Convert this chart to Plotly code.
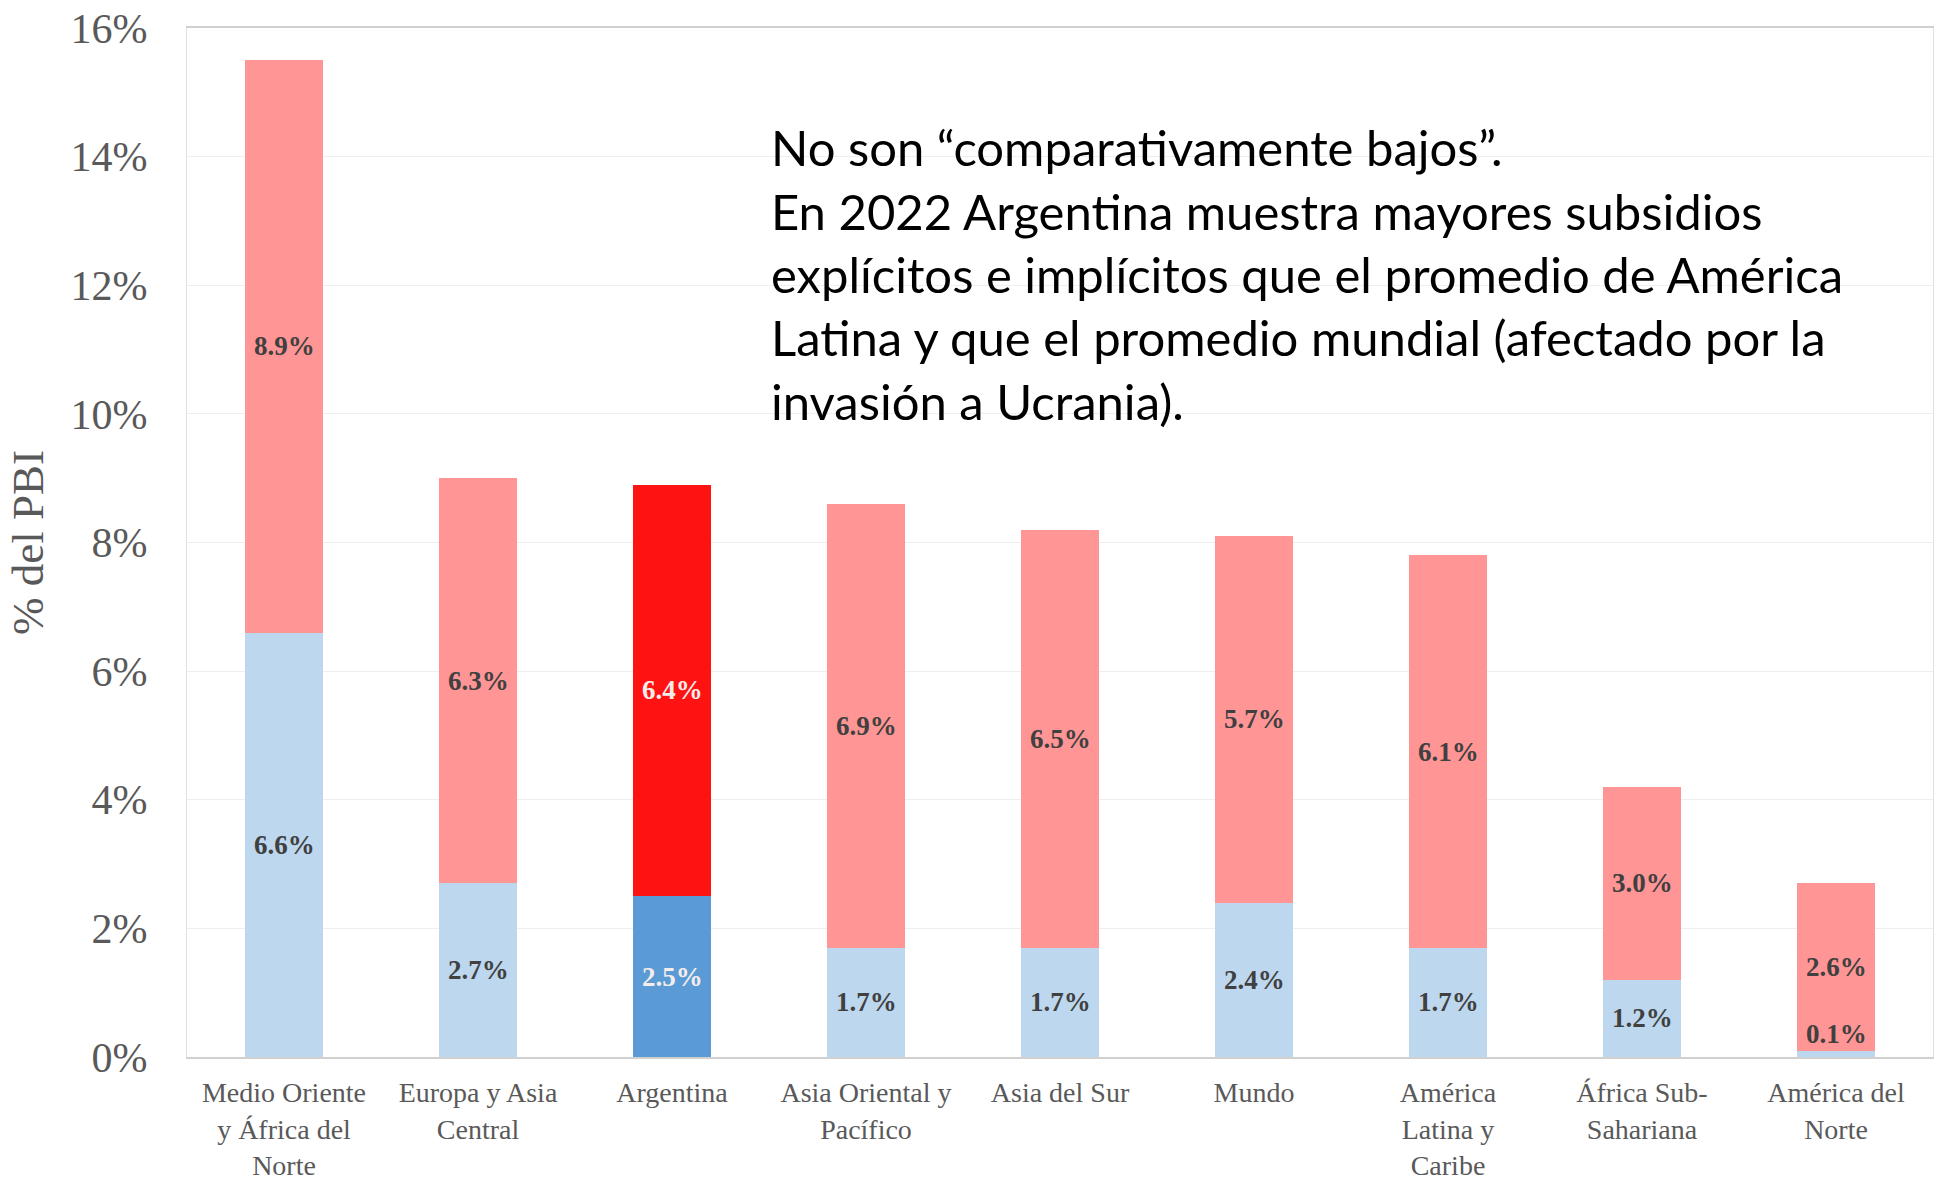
import plotly.graph_objects as go

# Regions and subsidy components (% of GDP, 2022)
regiones = [
    "Medio Oriente<br>y África del<br>Norte",
    "Europa y Asia<br>Central",
    "Argentina",
    "Asia Oriental y<br>Pacífico",
    "Asia del Sur",
    "Mundo",
    "América<br>Latina y<br>Caribe",
    "África Sub-<br>Sahariana",
    "América del<br>Norte",
]
explicitos = [6.6, 2.7, 2.5, 1.7, 1.7, 2.4, 1.7, 1.2, 0.1]
implicitos = [8.9, 6.3, 6.4, 6.9, 6.5, 5.7, 6.1, 3.0, 2.6]
destacado = "Argentina"

y_ticks = [0, 2, 4, 6, 8, 10, 12, 14, 16]
y_ticktext = [f"{t}%" for t in y_ticks]

nota = [
    "No son “comparativamente bajos”.",
    "En 2022 Argentina muestra mayores subsidios",
    "explícitos e implícitos que el promedio de América",
    "Latina y que el promedio mundial (afectado por la",
    "invasión a Ucrania).",
]

# Colours
AZUL_CLARO = "#BDD7EE"
AZUL_FUERTE = "#5B9BD5"
ROJO_CLARO = "#FF9595"
ROJO_FUERTE = "#FF1212"
GRIS_TEXTO = "#595959"
SERIF = "Liberation Serif, DejaVu Serif, serif"

W, H = 1937, 1181
L, R, T, B = 187, 4, 28, 124

es_dest = [r == destacado for r in regiones]
col_exp = [AZUL_FUERTE if d else AZUL_CLARO for d in es_dest]
col_imp = [ROJO_FUERTE if d else ROJO_CLARO for d in es_dest]

fig = go.Figure()
fig.add_trace(go.Bar(x=regiones, y=explicitos, name="Explícitos",
                     marker=dict(color=col_exp, line=dict(width=0))))
fig.add_trace(go.Bar(x=regiones, y=implicitos, name="Implícitos",
                     marker=dict(color=col_imp, line=dict(width=0))))

# Value labels centred in each stacked segment
anns = []
for reg, e, i, d in zip(regiones, explicitos, implicitos, es_dest):
    for base, v in ((0.0, e), (e, i)):
        anns.append(dict(
            x=reg, y=base + v / 2, xref="x", yref="y",
            text=f"{v:.1f}%", showarrow=False,
            yshift=20 if v < 0.5 else 0,
            font=dict(family=SERIF, size=27, weight="bold",
                      color="#F5ECEC" if d else "#404040"),
        ))

# Commentary text block, one annotation per line
plot_h = H - T - B
plot_w = W - L - R
line_px = [147, 211, 274, 337, 401]
for txt, yp in zip(nota, line_px):
    anns.append(dict(
        x=(769 - L) / plot_w, y=(H - B - yp) / plot_h,
        xref="paper", yref="paper", xanchor="left", yanchor="middle",
        text=txt, showarrow=False,
        font=dict(family="Lato, Noto Sans, sans-serif", size=49, color="#000000"),
    ))

fig.update_layout(
    width=W, height=H,
    margin=dict(l=L, r=R, t=T, b=B, pad=0, autoexpand=False),
    barmode="stack", bargap=0.6,
    showlegend=False,
    plot_bgcolor="white", paper_bgcolor="white",
    annotations=anns,
)
fig.update_xaxes(
    automargin=False,
    showgrid=False, showline=True, linecolor="#D0D0D0", linewidth=1.5,
    mirror=True, ticks="", tickangle=0, ticklabelstandoff=10,
    tickfont=dict(family=SERIF, size=28, color=GRIS_TEXTO),
)
fig.update_yaxes(
    automargin=False,
    range=[0, 16], tickvals=y_ticks, ticktext=y_ticktext,
    showgrid=True, gridcolor="#EFEFEF", gridwidth=1,
    showline=True, linecolor="#E0E0E0", linewidth=1, mirror=True,
    zeroline=False, ticks="", ticklabelstandoff=30,
    tickfont=dict(family=SERIF, size=42, color=GRIS_TEXTO),
    title=dict(text="% del PBI", standoff=12,
               font=dict(family=SERIF, size=45, color=GRIS_TEXTO)),
)

fig.write_html("out.html")
